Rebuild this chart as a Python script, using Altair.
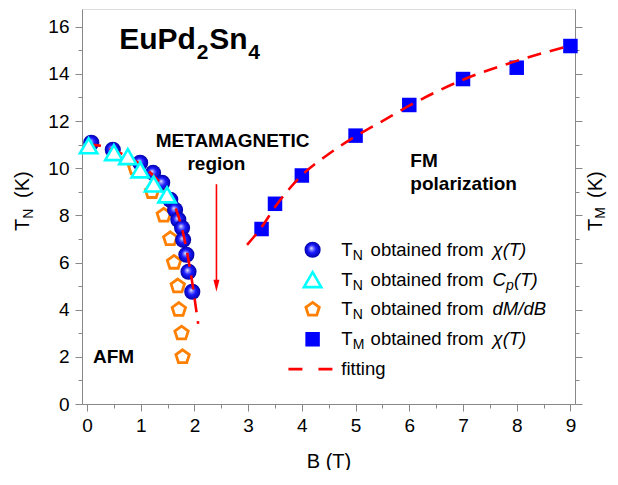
import altair as alt
import pandas as pd

# ---------------- data ----------------
chi_B = [0.08, 0.48, 0.99, 1.23, 1.40, 1.55, 1.64, 1.70, 1.77, 1.79, 1.85, 1.89, 1.96]
chi_T = [11.08, 10.78, 10.23, 9.80, 9.38, 8.66, 8.23, 7.81, 7.47, 6.96, 6.33, 5.61, 4.76]

cp_B = [0.03, 0.50, 0.76, 0.99, 1.24, 1.49]
cp_T = [10.95, 10.66, 10.49, 9.93, 9.33, 8.87]

dm_B = [0.90, 1.21, 1.43, 1.55, 1.62, 1.69, 1.71, 1.76, 1.78]
dm_T = [10.0, 9.0, 8.0, 7.0, 6.0, 5.0, 4.0, 3.0, 2.0]

tm_B = [3.25, 3.5, 4.0, 5.0, 6.0, 7.0, 8.0, 9.0]
tm_T = [7.42, 8.49, 9.69, 11.38, 12.68, 13.78, 14.26, 15.18]

fitL_B = [0.0, 0.25, 0.5, 0.75, 1.0, 1.25, 1.5, 1.65, 1.75, 1.85, 1.92, 1.97, 2.02, 2.07]
fitL_T = [11.0, 10.95, 10.75, 10.5, 10.15, 9.65, 8.95, 8.3, 7.6, 6.6, 5.7, 5.0, 4.2, 3.4]

fitR_B = [2.98, 3.25, 3.5, 4.0, 4.5, 5.0, 5.5, 6.0, 7.0, 8.0, 9.0]
fitR_T = [6.75, 7.5, 8.35, 9.7, 10.6, 11.35, 12.0, 12.65, 13.75, 14.55, 15.2]

legend_sub = ["N", "N", "N", "M"]
legend_italic = ["\u03c7(T)", None, "dM/dB", "\u03c7(T)"]

x_ticks = [i * 0.5 for i in range(19)]
y_ticks = list(range(17))

# ---------------- styling ----------------
FONT = "Liberation Sans"
BLUE = "#0000ff"
CYAN = "#00ffff"
ORANGE = "#ff8000"
RED = "#ff0000"
AX = "#222222"

xs = alt.Scale(domain=[-0.093, 9.085], nice=False, zero=False)
ys = alt.Scale(domain=[0, 16.75], nice=False, zero=False)

xax = alt.Axis(values=x_ticks, title="B (T)", grid=False, format=".0f",
               labelExpr="datum.value % 1 === 0 ? datum.label : ''",
               tickSize={"condition": {"test": "datum.value % 1 === 0", "value": 7}, "value": 4},
               labelFontSize=19, labelPadding=5, titleFontSize=20, titleFontWeight="normal",
               titlePadding=16, labelFlush=False, labelOverlap=False)
yax = alt.Axis(values=y_ticks, title=None, grid=False, orient="left", format=".0f",
               labelExpr="datum.value % 2 === 0 ? datum.label : ''",
               tickSize={"condition": {"test": "datum.value % 2 === 0", "value": 7}, "value": 4},
               labelFontSize=19, labelPadding=6, labelFlush=False, labelOverlap=False)
yax_r = alt.Axis(values=y_ticks, title=None, grid=False, orient="right", labels=False,
                 tickSize={"condition": {"test": "datum.value % 2 === 0", "value": 7}, "value": 4})

X = alt.X("B:Q", scale=xs, axis=xax)
Y = alt.Y("T:Q", scale=ys, axis=yax)

def df(b, t, **extra):
    d = pd.DataFrame({"B": b, "T": t})
    for k, v in extra.items():
        d[k] = v
    return d

sphere = alt.RadialGradient(
    gradient="radial", x1=0.42, y1=0.4, r1=0, x2=0.5, y2=0.5, r2=0.5,
    stops=[alt.GradientStop(offset=0, color="#ffffff"),
           alt.GradientStop(offset=0.18, color="#9090ff"),
           alt.GradientStop(offset=0.5, color="#1a1aff"),
           alt.GradientStop(offset=1, color="#0000a8")])

PENT = "M0,-1L0.951,-0.309L0.588,0.809L-0.588,0.809L-0.951,-0.309Z"
ARROW = "M-0.5,-1L0.5,-1L0,1Z"

def circles(d):
    return alt.Chart(d).mark_point(shape="circle", filled=True, fill=sphere, size=260,
                                   opacity=1, strokeWidth=0).encode(x=X, y=Y)

def triangles(d):
    return alt.Chart(d).mark_point(shape="triangle-up", filled=False, fill="white", fillOpacity=1,
                                   stroke=CYAN, strokeWidth=2.6, size=300, opacity=1).encode(x=X, y=Y)

def pentagons(d):
    return alt.Chart(d).mark_point(shape=PENT, filled=False, fill="white", fillOpacity=1,
                                   stroke=ORANGE, strokeWidth=2.8, size=200, opacity=1).encode(x=X, y=Y)

def squares(d):
    return alt.Chart(d).mark_point(shape="square", filled=True, color=BLUE, size=210,
                                   opacity=1).encode(x=X, y=Y)

def fitline(d, dash=(14, 9)):
    return alt.Chart(d).mark_line(color=RED, strokeWidth=2.6, strokeDash=list(dash),
                                  interpolate="monotone").encode(x=X, y=Y, order="i:Q")

def text(d, size=18.5, weight="normal", style="normal", align="left", dx=0, dy=0):
    return alt.Chart(d).mark_text(font=FONT, fontSize=size, fontWeight=weight, fontStyle=style,
                                  align=align, baseline="alphabetic", dx=dx, dy=dy,
                                  color="black").encode(x=X, y=Y, text="label:N")

layers = []
layers.append(pentagons(df(dm_B, dm_T)))
layers.append(circles(df(chi_B, chi_T)))
layers.append(squares(df(tm_B, tm_T)))
layers.append(fitline(df(fitL_B, fitL_T, i=list(range(len(fitL_B))))))
layers.append(fitline(df(fitR_B, fitR_T, i=list(range(len(fitR_B))))))
layers.append(triangles(df(cp_B, cp_T)))

# arrow in the metamagnetic region
layers.append(alt.Chart(pd.DataFrame({"B": [2.41], "T": [9.32], "T2": [5.2]}))
              .mark_rule(color=RED, strokeWidth=1.6).encode(x=X, y=Y, y2="T2:Q"))
layers.append(alt.Chart(df([2.41], [5.01])).mark_point(shape=ARROW, filled=True, color=RED,
                                                        size=144, opacity=1).encode(x=X, y=Y))

# annotations
layers.append(text(df([2.71, 2.41], [10.91, 9.93], label=["METAMAGNETIC", "region"]),
                   size=19, weight="bold", align="center"))
layers.append(text(df([6.02, 6.02, 0.11], [10.06, 9.08, 1.74], label=["FM", "polarization", "AFM"]),
                   size=19, weight="bold"))
# compound name
layers.append(text(df([0.60], [15.06], label=["EuPd"]), size=30, weight="bold"))
layers.append(text(df([0.60], [15.06], label=["2"]), size=21, weight="bold", dx=77.5, dy=10))
layers.append(text(df([0.60], [15.06], label=["Sn"]), size=30, weight="bold", dx=90))
layers.append(text(df([0.60], [15.06], label=["4"]), size=21, weight="bold", dx=129, dy=10))

# legend (data-coordinate layout)
LX_M, LX_T, LX_O, LX_I = 4.2, 4.735, 5.28, 7.55
ly = [6.54 - 1.265 * i for i in range(5)]
layers.append(circles(df([LX_M], [ly[0]])))
layers.append(triangles(df([LX_M], [ly[1]])))
layers.append(pentagons(df([LX_M], [ly[2]])))
layers.append(squares(df([LX_M], [ly[3]])))
layers.append(fitline(df([3.75, 4.57], [ly[4], ly[4]], i=[0, 1]), dash=(14, 16)))
layers.append(text(df([LX_T] * 4, ly[:4], label=["T"] * 4), dy=6))
layers.append(text(df([LX_T] * 4, ly[:4], label=legend_sub), size=14, dx=11.3, dy=10))
layers.append(text(df([LX_O] * 4, ly[:4], label=["obtained from"] * 4), dy=6))
it_rows = [i for i in range(4) if legend_italic[i]]
layers.append(text(df([LX_I] * len(it_rows), [ly[i] for i in it_rows],
                      label=[legend_italic[i] for i in it_rows]), style="italic", dy=6))
layers.append(text(df([LX_I], [ly[1]], label=["C"]), style="italic", dy=6))
layers.append(text(df([LX_I], [ly[1]], label=["p"]), size=14, style="italic", dx=13.4, dy=10))
layers.append(text(df([LX_I], [ly[1]], label=["(T)"]), style="italic", dx=21.5, dy=6))
layers.append(text(df([LX_T], [ly[4]], label=["fitting"]), dy=6))

# rotated axis titles (pixel placement relative to plot area)
def vtitle(xpix, ypix, sub):
    base = pd.DataFrame({"label": ["x"]})
    common = dict(font=FONT, angle=270, align="left", baseline="alphabetic", color="black")
    return [
        alt.Chart(base).mark_text(fontSize=20, text="T", **common).encode(x=alt.value(xpix), y=alt.value(ypix)),
        alt.Chart(base).mark_text(fontSize=14, text=sub, dx=12.2, dy=3.5, **common).encode(x=alt.value(xpix), y=alt.value(ypix)),
        alt.Chart(base).mark_text(fontSize=20, text="(K)", dx=33, **common).encode(x=alt.value(xpix), y=alt.value(ypix)),
    ]

layers += vtitle(-53, 222, "N")
layers += vtitle(519.5, 222, "M")

main = alt.layer(*layers)

right = alt.Chart(df(tm_B, tm_T)).mark_point(opacity=0).encode(
    x=X, y=alt.Y("T:Q", scale=ys, axis=yax_r))

chart = alt.layer(main, right).resolve_axis(y="independent").properties(
    width=493, height=395,
    padding={"left": 74, "top": 1, "right": 34, "bottom": 66},
    autosize=alt.AutoSizeParams(type="none"),
).configure_view(stroke=AX, strokeWidth=1.5).configure_axis(
    domainColor=AX, domainWidth=1.5, tickColor=AX, tickWidth=1.5,
    labelFont=FONT, titleFont=FONT, labelColor="black", titleColor="black"
).configure(font=FONT)

chart.save("out.html", embed_options={"renderer": "svg", "actions": False})
